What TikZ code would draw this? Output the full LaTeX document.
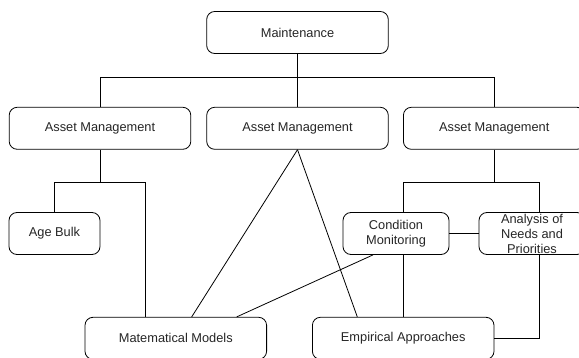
\documentclass[tikz,border=0pt]{standalone}
\usepackage{fontspec}
\setmainfont{Liberation Sans}
\definecolor{textgray}{HTML}{262626}
\begin{document}
\begin{tikzpicture}[x=1pt,y=-1pt,
  box/.style={draw, rounded corners=8pt, line width=0.8pt,
    minimum width=181.6pt, minimum height=42pt, inner sep=0pt,
    align=center, font=\fontsize{12.8}{15}\selectfont, text=textgray},
  smallbox/.style={box, minimum width=106pt},
  link/.style={line width=0.8pt}]
  % canvas
  \useasboundingbox (0,0) rectangle (579,358);
  \clip (0,0) rectangle (579,358);
  \fill[white] (0,0) rectangle (579,358);

  % top level
  \node[box] (maint) at (297.5,32.5) {Maintenance};

  % second level
  \node[box] (am1) at (100,128.3) {Asset Management};
  \node[box] (am2) at (297.5,128.3) {Asset Management};
  \node[box] (am3) at (494.2,128.3) {Asset Management};

  % third level
  \node[box, minimum width=91pt] (age) at (54.5,233.5) {Age Bulk};
  \node[smallbox] (cm) at (396,233.5) {Condition\\Monitoring};
  \node[smallbox] (an) at (532,233.5) {Analysis of\\Needs and\\Priorities};

  % bottom level
  \node[box] (mm) at (175.8,338.3) {Matematical Models};
  \node[box] (ea) at (403.2,338.3) {Empirical Approaches};

  % bus heights
  \coordinate (busT) at (0,77.7);
  \coordinate (busL) at (0,182.7);
  \coordinate (busR) at (0,182.7);

  % Maintenance to the three Asset Management boxes
  \draw[link] (maint.south) -- (am2.north);
  \draw[link] (am1.north) |- (busT -| am3.north) -- (am3.north);

  % left branch
  \coordinate (mmL) at ([xshift=-30.5pt]mm.north);
  \draw[link] (am1.south) -- (am1.south |- busL);
  \draw[link] (age.north) |- (mmL |- busL) -- (mmL);

  % middle branch
  \draw[link] (am2.south) -- ([xshift=15.9pt]mm.north);
  \draw[link] (am2.south) -- ([xshift=-45.9pt]ea.north);

  % right branch
  \coordinate (anT) at ([xshift=7.7pt]an.north);
  \draw[link] (am3.south) -- (am3.south |- busR);
  \draw[link] (cm.north -| ea.north) |- (anT |- busR) -- (anT);
  \draw[link] (cm.east) -- (an.west);
  \draw[link] ([xshift=-23pt]cm.south) -- ([xshift=60.9pt]mm.north);
  \draw[link] (cm.south -| ea.north) -- (ea.north);
  \draw[link] (an.south -| anT) |- (ea.east);
\end{tikzpicture}
\end{document}
